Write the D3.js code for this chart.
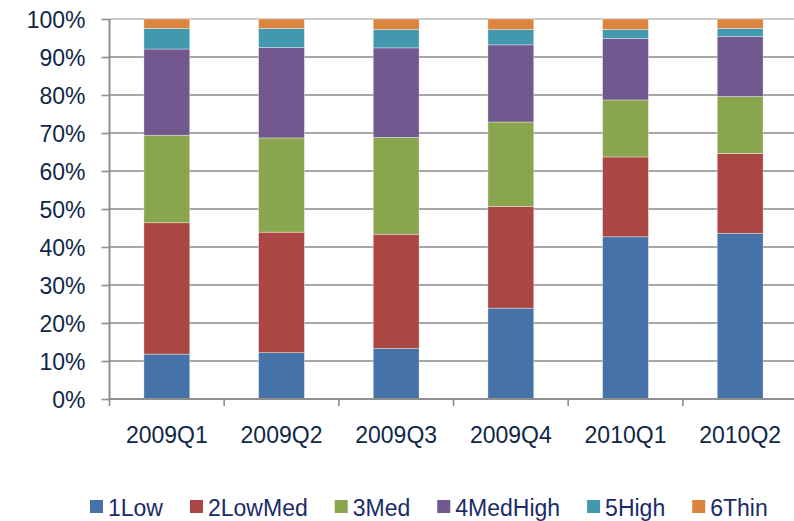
<!DOCTYPE html>
<html>
<head>
<meta charset="utf-8">
<script src="https://cdn.jsdelivr.net/npm/d3@7"></script>
<style>
  html, body { margin: 0; padding: 0; background: #fff; }
  svg { display: block; font-family: Arial, "Liberation Sans", sans-serif; }
</style>
</head>
<body>
<svg id="chart" width="794" height="521"></svg>
<script>
const categories = ["2009Q1", "2009Q2", "2009Q3", "2009Q4", "2010Q1", "2010Q2"];
const seriesNames = ["1Low", "2LowMed", "3Med", "4MedHigh", "5High", "6Thin"];
const low      = [11.8, 12.2, 13.3, 23.9, 42.7, 43.6];
const lowMed   = [34.6, 31.7, 30.1, 26.8, 21.0, 21.0];
const med      = [23.0, 24.8, 25.5, 22.2, 15.0, 15.0];
const medHigh  = [22.7, 23.8, 23.6, 20.3, 16.2, 15.8];
const high     = [5.4, 5.0, 4.8, 4.0, 2.3, 2.1];
const thin     = [2.5, 2.5, 2.8, 2.8, 2.8, 2.5];
const yTicks = [0, 10, 20, 30, 40, 50, 60, 70, 80, 90, 100];
const colors = ["#4572a7", "#aa4643", "#89a54e", "#71588f", "#4198af", "#db843d"];

const seriesValues = [low, lowMed, med, medHigh, high, thin];
const table = categories.map((c, i) => {
  const row = { cat: c };
  const total = d3.sum(seriesValues, s => s[i]);
  seriesNames.forEach((n, k) => row[n] = seriesValues[k][i] / total * 100);
  return row;
});

const svg = d3.select("#chart");
const plotLeft = 109.5, plotRight = 797.5, plotTop = 19, plotBottom = 399;

const x = d3.scaleBand().domain(categories).range([plotLeft, plotRight])
  .paddingInner(0.6).paddingOuter(0.3);
const y = d3.scaleLinear().domain([0, 100]).range([plotBottom, plotTop]);

const textColor = "#0f2747";
const gridColor = "#8a8a8a";

// gridlines
svg.append("g").selectAll("line").data(yTicks.filter(t => t > 0)).join("line")
  .attr("x1", plotLeft).attr("x2", plotRight)
  .attr("y1", d => y(d)).attr("y2", d => y(d))
  .attr("stroke", (d) => d === 100 ? "#b8b8b8" : gridColor)
  .attr("stroke-width", 1.6);

// bars
const stack = d3.stack().keys(seriesNames)(table);
svg.append("g").selectAll("g").data(stack).join("g")
  .attr("fill", (d, i) => colors[i])
  .selectAll("rect").data(d => d).join("rect")
  .attr("x", d => x(d.data.cat))
  .attr("width", x.bandwidth())
  .attr("y", d => y(d[1]))
  .attr("height", d => y(d[0]) - y(d[1]))
  .attr("stroke", "rgba(255,255,255,0.45)")
  .attr("stroke-width", 0.8);

// y axis
const yAxis = svg.append("g").attr("transform", `translate(${plotLeft},0)`)
  .call(d3.axisLeft(y).tickValues(yTicks).tickFormat(d => d + "%").tickSize(8).tickPadding(16));
yAxis.select(".domain").attr("stroke", "#8e8e8e").attr("stroke-width", 2).attr("d", `M0,${plotTop}V${plotBottom}`);
yAxis.selectAll(".tick line").attr("stroke", "#8e8e8e").attr("stroke-width", 1.6);
yAxis.selectAll(".tick text").attr("fill", textColor).attr("font-size", 23)
  .attr("font-family", "Arial, 'Liberation Sans', sans-serif").attr("dy", "0.36em");

// x axis
const xAxis = svg.append("g").attr("transform", `translate(0,${plotBottom})`)
  .call(d3.axisBottom(x).tickSize(0).tickPadding(28));
xAxis.select(".domain").attr("stroke", "#8e8e8e").attr("stroke-width", 2).attr("d", `M${plotLeft},0H${plotRight}`);
xAxis.selectAll(".tick text").attr("fill", textColor).attr("font-size", 23)
  .attr("font-family", "Arial, 'Liberation Sans', sans-serif");
// category boundary ticks
const step = x.step();
const boundaries = d3.range(categories.length + 1).map(i => plotLeft + i * step);
xAxis.append("g").selectAll("line").data(boundaries).join("line")
  .attr("x1", d => d).attr("x2", d => d).attr("y1", 0).attr("y2", 7)
  .attr("stroke", "#8e8e8e").attr("stroke-width", 1.6);

// legend
const legend = svg.append("g").attr("transform", "translate(90,0)");
let lx = 0;
seriesNames.forEach((n, i) => {
  const g = legend.append("g").attr("transform", `translate(${lx},0)`);
  g.append("rect").attr("x", 0).attr("y", 500).attr("width", 13).attr("height", 13).attr("fill", colors[i]);
  const t = g.append("text").attr("x", 18).attr("y", 516)
    .attr("font-size", 23).attr("fill", "#1a2b66").text(n);
  lx += 18 + t.node().getComputedTextLength() + 27;
});
</script>
</body>
</html>
